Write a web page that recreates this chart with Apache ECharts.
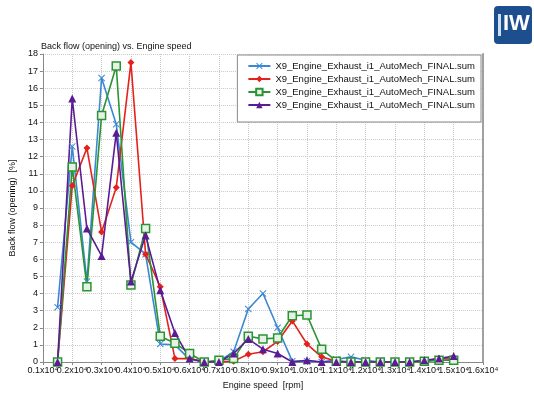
<!DOCTYPE html>
<html>
<head>
<meta charset="utf-8">
<script src="https://cdn.jsdelivr.net/npm/echarts@6/dist/echarts.min.js"></script>
<style>
  html, body { margin: 0; padding: 0; background: #fff; }
  #chart { width: 534px; height: 396px; }
</style>
</head>
<body>
<div id="chart"></div>
<script>
// Engine speed samples [rpm]
const rpm = [1500, 2000, 2500, 3000, 3500, 4000, 4500, 5000, 5500, 6000, 6500, 7000, 7500, 8000,
             8500, 9000, 9500, 10000, 10500, 11000, 11500, 12000, 12500, 13000, 13500, 14000, 14500, 15000];

// Back flow (opening) [%] per run
const runBlue   = [3.2, 12.6, 4.7, 16.6, 13.9, 7.0, 6.3, 1.05, 1.0, 0.15, 0.0, 0.05, 0.6, 3.1,
                   4.0, 2.0, 0.05, 0.05, 0.0, 0.15, 0.3, 0.1, 0.0, 0.0, 0.0, 0.05, 0.1, 0.15];
const runRed    = [0.0, 10.3, 12.5, 7.6, 10.2, 17.5, 6.3, 4.4, 0.2, 0.2, 0.0, 0.0, 0.05, 0.45,
                   0.6, 1.2, 2.4, 1.05, 0.3, 0.05, 0.0, 0.0, 0.0, 0.0, 0.0, 0.05, 0.2, 0.25];
const runGreen  = [0.0, 11.4, 4.4, 14.4, 17.3, 4.5, 7.8, 1.5, 1.1, 0.5, 0.0, 0.1, 0.2, 1.5,
                   1.35, 1.4, 2.7, 2.75, 0.75, 0.05, 0.0, 0.0, 0.0, 0.0, 0.0, 0.05, 0.1, 0.1];
const runPurple = [0.0, 15.4, 7.8, 6.2, 13.4, 4.7, 7.4, 4.2, 1.7, 0.2, 0.0, 0.0, 0.5, 1.35,
                   0.75, 0.5, 0.0, 0.1, 0.0, 0.0, 0.0, 0.0, 0.0, 0.0, 0.0, 0.1, 0.2, 0.35];

const runLabel = 'X9_Engine_Exhaust_i1_AutoMech_FINAL.sum';
const seriesIds = ['run1', 'run2', 'run3', 'run4'];

const pairs = vals => rpm.map((x, i) => [x, vals[i]]);
const font = '"Liberation Sans", Arial, sans-serif';
const crossPath = 'path://M0,1L1,0L5,4L9,0L10,1L6,5L10,9L9,10L5,6L1,10L0,9L4,5Z';
const rpmLabel = v => (v / 10000).toFixed(1) + 'x10\u2074';

const chart = echarts.init(document.getElementById('chart'), null, { renderer: 'canvas' });

function lineSeries(name, vals, color, symbol, size, extra) {
  return Object.assign({
    name: name,
    type: 'line',
    xAxisIndex: 0,
    yAxisIndex: 0,
    data: pairs(vals),
    symbol: symbol,
    symbolSize: size,
    showAllSymbol: true,
    lineStyle: { color: color, width: 1.6 },
    itemStyle: { color: color },
    animation: false
  }, extra || {});
}

// The crowded rpm labels are split over two coincident axes (odd / even thousands)
// so that neighbouring labels never get culled.
function rpmAxis(odd, main) {
  return {
    type: 'value',
    position: 'bottom',
    min: 1000, max: 16000, interval: 1000,
    name: main ? 'Engine speed  [rpm]' : '',
    nameLocation: 'middle', nameGap: 19,
    nameTextStyle: { fontFamily: font, fontSize: 9, color: '#111' },
    axisLine: { show: main, lineStyle: { color: '#888' } },
    axisTick: { show: main, length: 3, lineStyle: { color: '#888' } },
    axisLabel: {
      fontFamily: font, fontSize: 9, color: '#111', margin: 4,
      showMinLabel: true, showMaxLabel: true,
      formatter: v => ((Math.round(v / 1000) % 2 === 1) === odd ? rpmLabel(v) : '')
    },
    splitLine: { show: main, lineStyle: { color: '#c8c8c8', type: 'dotted', width: 1 } }
  };
}

chart.setOption({
  backgroundColor: '#fff',
  title: {
    text: 'Back flow (opening) vs. Engine speed',
    left: 36, top: 37,
    textStyle: { fontFamily: font, fontSize: 9, fontWeight: 'normal', color: '#111' }
  },
  legend: {
    data: seriesIds,
    orient: 'vertical',
    right: 53, top: 55,
    itemGap: 3,
    itemWidth: 22, itemHeight: 8,
    padding: [6, 6, 12, 10],
    borderColor: '#8a8a8a', borderWidth: 1,
    backgroundColor: '#fff',
    formatter: () => runLabel,
    textStyle: { fontFamily: font, fontSize: 9.5, color: '#111' }
  },
  grid: { left: 38, right: 51, top: 54, bottom: 34 },
  xAxis: [rpmAxis(true, true), rpmAxis(false, false)],
  yAxis: [{
    type: 'value',
    min: 0, max: 18, interval: 1,
    name: 'Back flow (opening)  [%]',
    nameLocation: 'middle', nameGap: 17, nameRotate: 90,
    nameTextStyle: { fontFamily: font, fontSize: 9, color: '#111' },
    axisLine: { show: true, lineStyle: { color: '#888' } },
    axisTick: { show: true, length: 3, lineStyle: { color: '#888' } },
    axisLabel: { fontFamily: font, fontSize: 9, color: '#111', margin: 5 },
    splitLine: { show: true, lineStyle: { color: '#c8c8c8', type: 'dotted', width: 1 } }
  }, {
    type: 'value',
    position: 'right',
    min: 0, max: 18,
    axisLine: { show: true, lineStyle: { color: '#a0a0a0', width: 2 } },
    axisTick: { show: false },
    axisLabel: { show: false },
    splitLine: { show: false }
  }],
  series: [
    lineSeries(seriesIds[0], runBlue, '#3a88d4', crossPath, 7),
    lineSeries(seriesIds[1], runRed, '#e3221d', 'diamond', 7),
    lineSeries(seriesIds[2], runGreen, '#2a9433', 'rect', 8, {
      itemStyle: { color: '#e6f2e6', borderColor: '#2a9433', borderWidth: 1.5 }
    }),
    lineSeries(seriesIds[3], runPurple, '#5b1c93', 'triangle', 8)
  ],
  graphic: [{
    type: 'group',
    left: 494, top: 6,
    children: [
      { type: 'rect', shape: { x: 0, y: 0, width: 38, height: 38, r: 4 }, style: { fill: '#1d4f8f' } },
      { type: 'rect', shape: { x: 4, y: 8, width: 3, height: 22 }, style: { fill: '#cfe0f2' } },
      { type: 'text', style: { x: 9, y: 7, text: 'IW', fill: '#ffffff',
        font: 'bold 22px "Liberation Sans", Arial, sans-serif' } }
    ]
  }]
});
</script>
</body>
</html>
